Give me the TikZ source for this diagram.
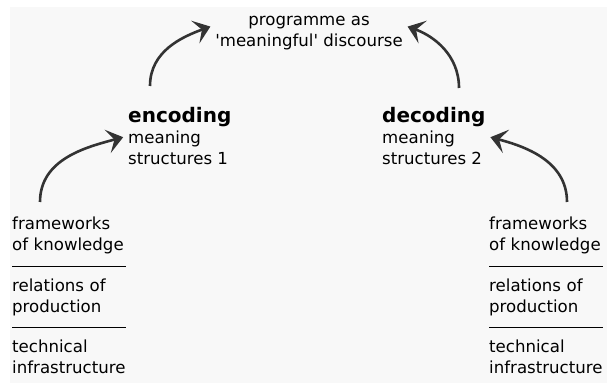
\documentclass[tikz,border=0pt]{standalone}
\usepackage{fontspec}
\setmainfont{DejaVu Sans}
\usetikzlibrary{positioning,arrows.meta,calc}
\definecolor{paper}{RGB}{248,248,248}
\definecolor{arrowgrey}{RGB}{51,51,51}

\begin{document}
\begin{tikzpicture}[
x=1pt,y=1pt,
node distance=24pt,
every node/.style={
inner sep=0pt,
align=left,
font=\fontsize{16.6}{21}\selectfont
},
stack/.style={text width=114pt},
turnarrow/.style={->,line width=2.6pt,draw=arrowgrey,shorten >=5pt},
rule/.style={line width=1.1pt},
>={Stealth[length=16pt,width=24pt,inset=7pt]}
]

\useasboundingbox (0,0) rectangle (607,383);
\fill[paper] (10,0) rectangle (607,376);

\node (programme)[align=center,anchor=north] at (309,367){programme as\\\textquotesingle meaningful\textquotesingle{} discourse};

\node (encoding)[anchor=north west] at (128,276){{\bfseries\fontsize{20}{22}\selectfont encoding}\\meaning\\structures 1};

\node (decoding)[anchor=north west] at (382,276){{\bfseries\fontsize{20}{22}\selectfont decoding}\\meaning\\structures 2};

\node (lframe)[stack,anchor=north west] at (12,166){frameworks\\of knowledge};
\node (lrel)[stack,below=of lframe]{relations of\\production};
\node (ltech)[stack,below=of lrel]{technical\\infrastructure};

\node (rframe)[stack,anchor=north west] at (489,166){frameworks\\of knowledge};
\node (rrel)[stack,below=of rframe]{relations of\\production};
\node (rtech)[stack,below=of rrel]{technical\\infrastructure};

\draw[rule]($(lframe.south west)!.5!(lrel.north west)$)--($(lframe.south east)!.5!(lrel.north east)$);
\draw[rule]($(lrel.south west)!.5!(ltech.north west)$)--($(lrel.south east)!.5!(ltech.north east)$);
\draw[rule]($(rframe.south west)!.5!(rrel.north west)$)--($(rframe.south east)!.5!(rrel.north east)$);
\draw[rule]($(rrel.south west)!.5!(rtech.north west)$)--($(rrel.south east)!.5!(rtech.north east)$);

\coordinate (encfoot) at (150,297);
\coordinate (decfoot) at (459,295);
\coordinate (lfoot) at (40,181);
\coordinate (rfoot) at (567,181);

\draw[turnarrow](encfoot) to[out=90,in=200] (programme.175);
\draw[turnarrow](decfoot) to[out=90,in=-20] (programme.5);
\draw[turnarrow](lfoot) to[out=90,in=195] (encoding.west);
\draw[turnarrow](rfoot) to[out=90,in=-15] (decoding.east);

\end{tikzpicture}
\end{document}
